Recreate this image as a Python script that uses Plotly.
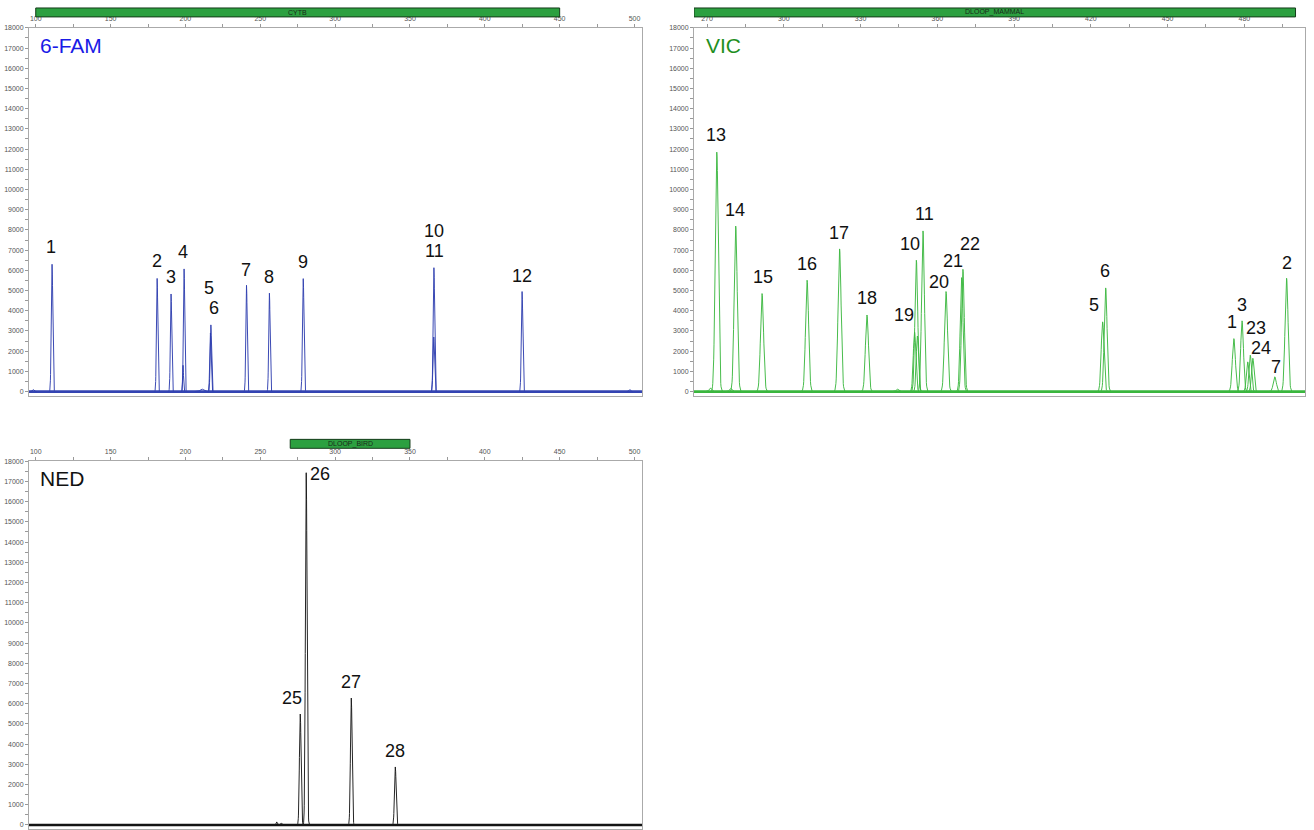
import numpy as np
import plotly.graph_objects as go

# ---------------- data ----------------
# 6-FAM channel peaks (size in bp, height in RFU, width sigma in bp)
FAM_POS = [98.3, 110.9, 181.1, 190.4, 198.4, 199.1, 211.0, 216.7, 217.0, 240.8, 256.1, 278.7, 365.9, 366.0, 424.9, 496.8]
FAM_HGT = [100, 6300, 5600, 4830, 1300, 6070, 120, 2900, 3300, 5260, 4870, 5590, 2700, 6130, 4950, 100]
FAM_SIG = [0.6, 0.5, 0.45, 0.45, 0.3, 0.45, 1.2, 0.45, 0.45, 0.45, 0.45, 0.5, 0.5, 0.5, 0.5, 0.5]
FAM_LBL = ["1", "2", "3", "4", "5", "6", "7", "8", "9", "10", "11", "12"]
FAM_LBL_X = [110.2, 181.1, 190.4, 198.5, 215.9, 219.3, 240.6, 256.0, 278.7, 366.2, 366.2, 425.0]
FAM_LBL_Y = [7160, 6460, 5670, 6910, 5130, 4140, 6010, 5670, 6420, 7950, 6960, 5720]

# VIC channel peaks
VIC_POS = [271.3, 273.8, 279.2, 281.2, 291.5, 309.1, 321.8, 332.5, 344.4, 351.1, 351.8, 352.2, 354.4,
           363.4, 369.5, 370.0, 424.6, 425.8, 475.9, 479.1, 481.3, 482.3, 483.3, 491.9, 496.5]
VIC_HGT = [180, 11850, 150, 8190, 4850, 5510, 7060, 3790, 120, 2950, 6500, 2750, 7950,
           4950, 5640, 6050, 3450, 5130, 2620, 3500, 1470, 1800, 1650, 730, 5610]
VIC_SIG = [0.5, 0.6, 0.5, 0.6, 0.6, 0.6, 0.6, 0.6, 0.5, 0.5, 0.55, 0.45, 0.55,
           0.6, 0.55, 0.55, 0.55, 0.55, 0.6, 0.55, 0.5, 0.5, 0.5, 0.6, 0.6]
VIC_LBL = ["13", "14", "15", "16", "17", "18", "19", "10", "11", "20", "21", "22",
           "5", "6", "1", "3", "23", "24", "7", "2"]
VIC_LBL_X = [273.4, 280.8, 291.7, 308.9, 321.4, 332.4, 346.8, 349.5, 354.8, 360.6, 366.1, 372.6,
             421.4, 425.7, 475.0, 479.1, 484.6, 486.5, 492.2, 496.5]
VIC_LBL_Y = [12700, 8990, 5670, 6320, 7850, 4640, 3800, 7320, 8770, 5430, 6450, 7320,
             4290, 5970, 3430, 4270, 3140, 2180, 1240, 6350]

# NED channel peaks
NED_POS = [261.0, 264.0, 276.7, 280.7, 310.8, 340.2]
NED_HGT = [150, 100, 5490, 17430, 6280, 2870]
NED_SIG = [0.4, 0.4, 0.55, 0.55, 0.55, 0.55]
NED_LBL = ["25", "26", "27", "28"]
NED_LBL_X = [271.4, 290.1, 310.8, 340.2]
NED_LBL_Y = [6280, 17360, 7070, 3660]

# marker bins drawn above each panel
BIN_NAMES = ["CYTB", "DLOOP_MAMMAL", "DLOOP_BIRD"]
BIN_START = [100, 260, 270]
BIN_END = [450, 500, 350]

FAM_TICKS = [100, 150, 200, 250, 300, 350, 400, 450, 500]
VIC_TICKS = [270, 300, 330, 360, 390, 420, 450, 480]
Y_TICKS = list(range(0, 18001, 1000))

# ---------------- figure ----------------
FONT = "Arial, 'Liberation Sans', sans-serif"
W, H = 1314, 830

def peak_trace(pos, hgt, sig, color, xa, ya):
    xs, ys = [], []
    for p, h, s in zip(pos, hgt, sig):
        xx = np.linspace(p - 4 * s, p + 4 * s, 41)
        yy = h * np.exp(-0.5 * ((xx - p) / s) ** 2)
        xs += list(xx) + [None]
        ys += list(yy) + [None]
    return go.Scatter(x=xs, y=ys, mode="lines", line=dict(color=color, width=1),
                      xaxis=xa, yaxis=ya, hoverinfo="skip")

def base_trace(rng, color, xa, ya):
    return go.Scatter(x=[rng[0], rng[1]], y=[0, 0], mode="lines",
                      line=dict(color=color, width=2.6), xaxis=xa, yaxis=ya, hoverinfo="skip")

FAM_RANGE = [95.5, 505]
VIC_RANGE = [264.9, 503.7]

fig = go.Figure()
fig.add_trace(base_trace(FAM_RANGE, "rgb(52,68,178)", "x", "y"))
fig.add_trace(peak_trace(FAM_POS, FAM_HGT, FAM_SIG, "rgba(48,64,176,0.95)", "x", "y"))
fig.add_trace(base_trace(VIC_RANGE, "rgb(58,182,62)", "x2", "y2"))
fig.add_trace(peak_trace(VIC_POS, VIC_HGT, VIC_SIG, "rgba(62,184,66,0.95)", "x2", "y2"))
fig.add_trace(base_trace(FAM_RANGE, "rgb(20,20,20)", "x3", "y3"))
fig.add_trace(peak_trace(NED_POS, NED_HGT, NED_SIG, "rgba(25,25,25,0.95)", "x3", "y3"))

def px_x(p):
    return p / W

def px_y(p):
    return 1 - p / H

dom_left = [px_x(29), px_x(642)]
dom_right = [px_x(694), px_x(1305)]
dom_top = [px_y(394), px_y(24)]
dom_bot = [px_y(830), px_y(460)]

tickfont = dict(family=FONT, size=7, color="#555")

def xaxis(domain, rng, ticks, minor_dt, anchor):
    return dict(domain=domain, range=rng, side="top", anchor=anchor, tickvals=ticks,
                ticks="outside", ticklen=3, tickcolor="#999", showline=True, linecolor="#aaa",
                linewidth=1, mirror=True, showgrid=False, zeroline=False, tickfont=tickfont,
                tickformat="d",
                minor=dict(ticks="outside", ticklen=3, dtick=minor_dt, tick0=ticks[0], tickcolor="#999"),
                fixedrange=True)

def yaxis(domain, anchor):
    return dict(domain=domain, range=[-200, 18000], anchor=anchor, tickvals=Y_TICKS,
                ticktext=[str(v) for v in Y_TICKS],
                ticks="outside", ticklen=3, tickcolor="#999", showline=True, linecolor="#aaa",
                linewidth=1, mirror=True, showgrid=False, zeroline=False, tickfont=tickfont,
                minor=dict(ticks="outside", ticklen=3, dtick=500, tick0=0, tickcolor="#999"),
                fixedrange=True)

fig.update_layout(
    width=W, height=H, margin=dict(l=0, r=0, t=0, b=0),
    paper_bgcolor="white", plot_bgcolor="white", showlegend=False,
    font=dict(family=FONT),
    xaxis=xaxis(dom_left, FAM_RANGE, FAM_TICKS, 25, "y"),
    yaxis=yaxis(dom_top, "x"),
    xaxis2=xaxis(dom_right, VIC_RANGE, VIC_TICKS, 15, "y2"),
    yaxis2=yaxis(dom_top, "x2"),
    xaxis3=xaxis(dom_left, FAM_RANGE, FAM_TICKS, 25, "y3"),
    yaxis3=yaxis(dom_bot, "x3"),
)

annotations = []
shapes = []

def peak_labels(lbls, xs, ys, xr, yr):
    for t, x, y in zip(lbls, xs, ys):
        annotations.append(dict(text=t, x=x, y=y, xref=xr, yref=yr, showarrow=False,
                                xanchor="center", yanchor="middle",
                                font=dict(family=FONT, size=18, color="#111")))

peak_labels(FAM_LBL, FAM_LBL_X, FAM_LBL_Y, "x", "y")
peak_labels(VIC_LBL, VIC_LBL_X, VIC_LBL_Y, "x2", "y2")
peak_labels(NED_LBL, NED_LBL_X, NED_LBL_Y, "x3", "y3")

# dye names
for name, color, xr, yr in [("6-FAM", "#1a1ae6", "x domain", "y domain"),
                            ("VIC", "#1f8f1f", "x2 domain", "y2 domain"),
                            ("NED", "#111111", "x3 domain", "y3 domain")]:
    annotations.append(dict(text=name, x=0.014 if name != "VIC" else 0.017, y=0.953,
                            xref=xr, yref=yr, showarrow=False, xanchor="left", yanchor="middle",
                            font=dict(family=FONT, size=21, color=color)))

# bins above panels
bin_rows = [("x", px_y(13), px_y(4)), ("x2", px_y(13), px_y(4)), ("x3", px_y(447), px_y(438))]
bin_ranges = [FAM_RANGE, VIC_RANGE, FAM_RANGE]
for name, s, e, (xr, y0, y1), rng in zip(BIN_NAMES, BIN_START, BIN_END, bin_rows, bin_ranges):
    s = max(s, rng[0])
    e = min(e, rng[1])
    shapes.append(dict(type="rect", xref=xr, yref="paper", x0=s, x1=e, y0=y0, y1=y1,
                       fillcolor="rgb(44,160,64)", line=dict(color="rgb(20,60,25)", width=1)))
    annotations.append(dict(text=name, x=(s + e) / 2, y=(y0 + y1) / 2, xref=xr, yref="paper",
                            showarrow=False, xanchor="center", yanchor="middle",
                            font=dict(family=FONT, size=7, color="#1a2a1a")))

fig.update_layout(annotations=annotations, shapes=shapes)

fig.write_html("out.html", config={"displayModeBar": False},
               post_script="document.body.style.margin='0';")
